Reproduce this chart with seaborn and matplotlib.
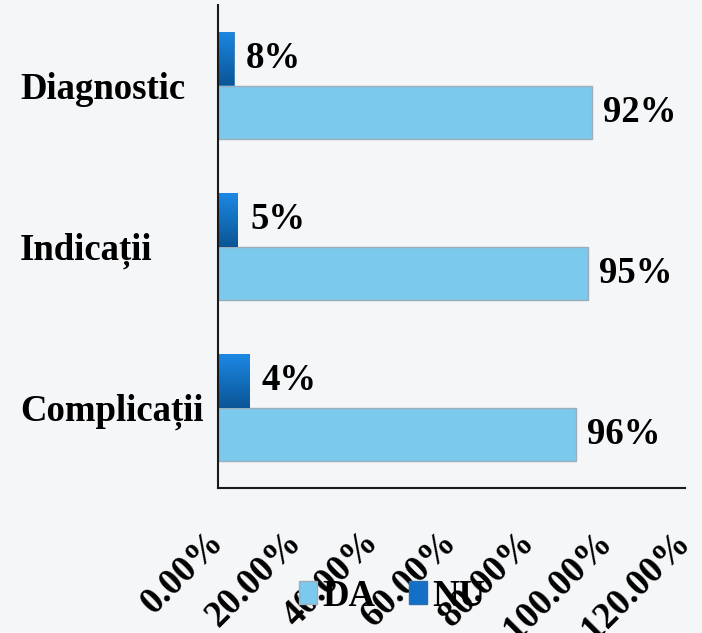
import numpy as np
import pandas as pd
import matplotlib
matplotlib.use("Agg")
import matplotlib.pyplot as plt
from matplotlib.colors import LinearSegmentedColormap
from matplotlib.patches import Patch
import seaborn as sns

# ----------------------
# Data
# ----------------------
categories = ["Diagnostic", "Indicații", "Complicații"]
da_values = [96, 95, 92]
nu_values = [4, 5, 8]
da_labels = ["92%", "95%", "96%"]
nu_labels = ["8%", "5%", "4%"]
x_ticks = [0, 20, 40, 60, 80, 100, 120]
x_tick_labels = ["0.00%", "20.00%", "40.00%", "60.00%", "80.00%", "100.00%", "120.00%"]

df = pd.DataFrame({
    "Categorie": categories * 2,
    "Serie": ["NU"] * 3 + ["DA"] * 3,
    "Valoare": nu_values + da_values,
})

# ----------------------
# Style
# ----------------------
BG = "#F5F6F8"
DA_COLOR = "#7BC9EC"
NU_COLOR = "#1470C6"
FS = 26.5
sns.set_style("white", {"axes.facecolor": BG, "figure.facecolor": BG})
plt.rcParams["font.family"] = ["Liberation Serif", "DejaVu Serif"]
plt.rcParams["font.weight"] = "bold"
plt.rcParams["text.color"] = "black"
plt.rcParams["xtick.color"] = "black"
plt.rcParams["ytick.color"] = "black"

fig = plt.figure(figsize=(7.02, 6.33), dpi=100)
ax = fig.add_axes([218 / 702, 1 - 488 / 633, (685 - 218) / 702, (488 - 5) / 633])

sns.barplot(data=df, y="Categorie", x="Valoare", hue="Serie", hue_order=["NU", "DA"],
            palette={"NU": NU_COLOR, "DA": DA_COLOR}, orient="h", width=0.67,
            order=categories, ax=ax, legend=False, saturation=1)

# edges
for p in ax.containers[1]:
    p.set_edgecolor("#9EADBA")
    p.set_linewidth(1.0)
for p in ax.containers[0]:
    p.set_edgecolor("#2A6FB0")
    p.set_linewidth(0.5)

# vertical gradient on NU bars
grad_cmap = LinearSegmentedColormap.from_list("nu", ["#1C88E4", "#0B5596"])
grad = np.linspace(0, 1, 100).reshape(-1, 1)
for p in ax.containers[0]:
    b = p.get_bbox()
    im = ax.imshow(grad, cmap=grad_cmap, origin="lower", aspect="auto",
                   extent=(b.x0, b.x1, b.y0, b.y1), zorder=p.get_zorder() + 0.1)
    im.set_clip_path(p)

ax.set_xlim(0, 120)
ax.set_ylim(2.5, -0.5)

# value labels
ax.bar_label(ax.containers[0], labels=nu_labels, padding=9, fontsize=FS, fontweight="bold")
ax.bar_label(ax.containers[1], labels=da_labels, padding=8, fontsize=FS, fontweight="bold")

# axes
ax.set_xlabel("")
ax.set_ylabel("")
ax.set_xticks(x_ticks)
ax.set_xticklabels(x_tick_labels, rotation=45, ha="right", va="center",
                   rotation_mode="anchor", fontsize=FS, fontweight="bold")
ax.set_yticks(range(len(categories)))
ax.set_yticklabels(categories, ha="left", fontsize=FS, fontweight="bold")
ax.tick_params(axis="x", length=0, pad=35)
ax.tick_params(axis="y", length=0, pad=198 * 0.72)
sns.despine(ax=ax)
for s in ["left", "bottom"]:
    ax.spines[s].set_color("#1A1A1A")
    ax.spines[s].set_linewidth(1.5)

# legend
handles = [Patch(facecolor=DA_COLOR, edgecolor="#9EADBA", label="DA"),
           Patch(facecolor=NU_COLOR, edgecolor="#2A6FB0", label="NU")]
fig.legend(handles=handles, loc="center", bbox_to_anchor=(392 / 702, 1 - 596 / 633),
           ncol=2, frameon=False, handlelength=0.5, handleheight=0.55,
           handletextpad=0.15, columnspacing=0.9, prop={"weight": "bold", "size": FS})

fig.savefig("out.png", dpi=100, facecolor=BG)
